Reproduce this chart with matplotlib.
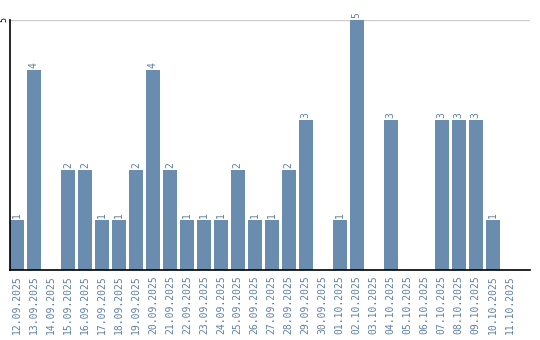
import matplotlib
matplotlib.use("Agg")
import matplotlib.pyplot as plt
import numpy as np

dates = ["12.09.2025", "13.09.2025", "14.09.2025", "15.09.2025", "16.09.2025",
         "17.09.2025", "18.09.2025", "19.09.2025", "20.09.2025", "21.09.2025",
         "22.09.2025", "23.09.2025", "24.09.2025", "25.09.2025", "26.09.2025",
         "27.09.2025", "28.09.2025", "29.09.2025", "30.09.2025", "01.10.2025",
         "02.10.2025", "03.10.2025", "04.10.2025", "05.10.2025", "06.10.2025",
         "07.10.2025", "08.10.2025", "09.10.2025", "10.10.2025", "11.10.2025"]
counts = [1, 4, 0, 2, 2, 1, 1, 2, 4, 2, 1, 1, 1, 2, 1,
          1, 2, 3, 0, 1, 5, 0, 3, 0, 0, 3, 3, 3, 1, 0]

bar_color = "#6a8caf"
text_color = "#5f80a3"

fig = plt.figure(figsize=(5.4, 3.4), dpi=100)
ax = fig.add_axes([10 / 540, 70 / 340, 520 / 540, 250 / 340])

x = np.arange(len(dates))
bars = ax.bar(x, counts, width=0.82, color=bar_color, zorder=2)

# value labels above the bars (skip empty days)
for xi, c in zip(x, counts):
    if c > 0:
        ax.text(xi, c + 0.05, str(c), rotation=90, ha="center", va="bottom",
                fontsize=7, family="DejaVu Sans Mono", color=text_color)

ax.set_xlim(-0.41, 30.2)
ax.set_ylim(0, 5)
ax.set_yticks([5])
ax.set_yticklabels(["5"], rotation=90, va="center", fontsize=6,
                   family="DejaVu Sans Mono", color="black")
ax.yaxis.grid(True, color="#cccccc", linewidth=1, zorder=0)
ax.set_xticks(x)
ax.set_xticklabels(dates, rotation=90, fontsize=7, family="DejaVu Sans Mono",
                   color=text_color)
ax.tick_params(axis="x", length=0, pad=4)
ax.tick_params(axis="y", length=0, pad=1)

ax.spines["top"].set_visible(False)
ax.spines["right"].set_visible(False)
ax.spines["left"].set_color("black")
ax.spines["bottom"].set_color("black")
ax.spines["left"].set_linewidth(1.2)
ax.spines["bottom"].set_linewidth(1.2)

fig.savefig("out.png", dpi=100)
